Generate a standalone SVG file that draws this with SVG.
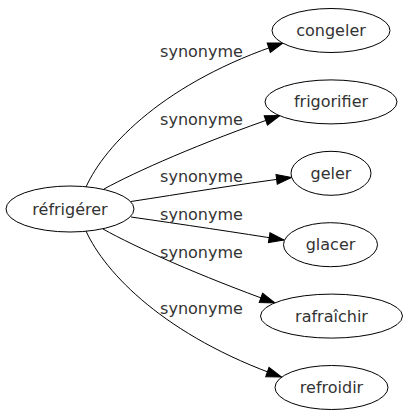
<svg xmlns="http://www.w3.org/2000/svg" width="407" height="419" viewBox="0 0 407 419">
<style>
text{font-family:"DejaVu Sans",sans-serif;font-size:16px;fill:#333;text-anchor:middle}
.n ellipse{fill:#fff;stroke:#000;stroke-width:1}
.e path{fill:none;stroke:#000;stroke-width:1;marker-end:url(#ah)}
</style>
<defs>
<marker id="ah" markerUnits="userSpaceOnUse" markerWidth="15" markerHeight="10" refX="15" refY="5" orient="auto" overflow="visible">
<path d="M0,0 L15,5 L0,10 z" fill="#000" stroke="#000" stroke-width="1"/>
</marker>
</defs>
<rect width="407" height="419" fill="#fff"/>
<g id="edges" class="e">
<path d="M86,187 C105,145 165,82 283,43"/>
<path d="M104,189 C135,172 200,143 280,115.5"/>
<path d="M131,201.5 C180,194 240,184 291.5,177.5"/>
<path d="M131,217 C180,224 240,233 284,240"/>
<path d="M103,229 C135,247 200,276 275,303"/>
<path d="M86,231 C105,273 165,336 281.5,377"/>
</g>
<g id="labels">
<text x="201.5" y="57">synonyme</text>
<text x="201.5" y="125">synonyme</text>
<text x="201.5" y="182">synonyme</text>
<text x="201.5" y="220">synonyme</text>
<text x="201.5" y="258">synonyme</text>
<text x="201.5" y="314">synonyme</text>
</g>
<g id="n-refrigerer" class="n"><ellipse cx="70" cy="209" rx="64" ry="23"/><text x="70" y="214.5">réfrigérer</text></g>
<g id="n-congeler" class="n"><ellipse cx="331" cy="30.5" rx="59" ry="22"/><text x="331" y="36">congeler</text></g>
<g id="n-frigorifier" class="n"><ellipse cx="331" cy="101.9" rx="66" ry="22"/><text x="331" y="107.4">frigorifier</text></g>
<g id="n-geler" class="n"><ellipse cx="331" cy="173.3" rx="40" ry="22"/><text x="331" y="178.8">geler</text></g>
<g id="n-glacer" class="n"><ellipse cx="330.5" cy="244.7" rx="47" ry="22"/><text x="330.5" y="250.2">glacer</text></g>
<g id="n-rafraichir" class="n"><ellipse cx="331.5" cy="316.1" rx="71" ry="22"/><text x="331.5" y="321.6">rafraîchir</text></g>
<g id="n-refroidir" class="n"><ellipse cx="331.5" cy="387.5" rx="56.5" ry="22"/><text x="331.5" y="393">refroidir</text></g>
</svg>
